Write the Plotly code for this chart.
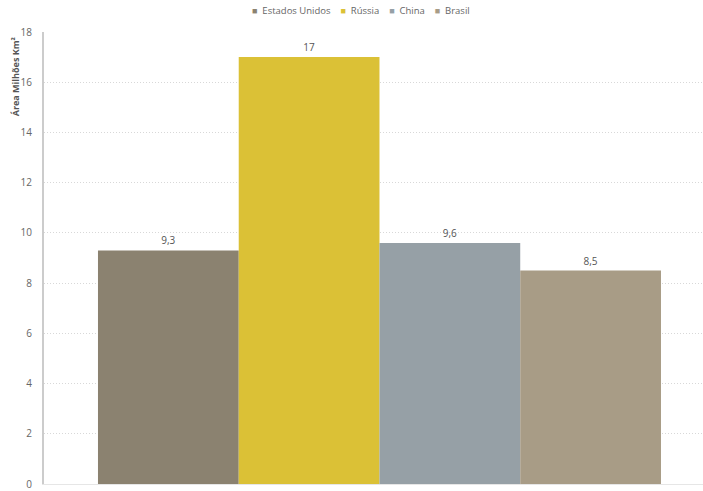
import plotly.graph_objects as go

series = ["Estados Unidos", "Rússia", "China", "Brasil"]
values = [9.3, 17, 9.6, 8.5]
colors = ["#8b8270", "#dbc136", "#96a0a6", "#a89c86"]
category = [""]
y_ticks = [0, 2, 4, 6, 8, 10, 12, 14, 16, 18]
y_title = "Área Milhões Km²"

fig = go.Figure()
for name, v, c in zip(series, values, colors):
    fig.add_trace(go.Bar(
        name=name, x=category, y=[v], marker=dict(color=c, line=dict(width=0)),
        text=[v], texttemplate="%{y}", textposition="outside",
        textfont=dict(size=10, color="#555555"), cliponaxis=False,
        showlegend=False,
    ))

legend_html = "&nbsp;&nbsp;&nbsp;&nbsp;".join(
    f"<span style='color:{c};font-size:9px'>■</span>&nbsp;&nbsp;{n}" for n, c in zip(series, colors)
)
fig.add_annotation(text=legend_html, xref="paper", yref="paper", x=0.481, y=1.047,
                   xanchor="center", yanchor="middle", showarrow=False,
                   font=dict(size=9.5, color="#666666"))
fig.add_annotation(text=f"<b>{y_title}</b>", xref="paper", yref="paper", x=-0.044, y=0.995,
                   xanchor="center", yanchor="top", textangle=-90, showarrow=False,
                   font=dict(size=9, color="#555555"))

fig.update_layout(
    width=703, height=491,
    margin=dict(l=44, r=0, t=32, b=7, autoexpand=False),
    paper_bgcolor="white", plot_bgcolor="white",
    barmode="group", bargap=0.2, bargroupgap=0,
    separators=",.",
    font=dict(family="Open Sans, sans-serif", size=10, color="#666666"),
    showlegend=False,
)
fig.update_xaxes(range=[-0.4767, 0.4597], showticklabels=False, showgrid=False,
                 showline=True, linecolor="#e6e6e6", linewidth=1, zeroline=False,
                 automargin=False)
fig.update_yaxes(range=[0, 18], tickvals=y_ticks, showgrid=True, gridcolor="#d8d8d8",
                 griddash="1px,2px", gridwidth=1, showline=True, linecolor="#cccccc",
                 linewidth=2, zeroline=False, ticks="", ticklabelstandoff=8,
                 ticklabeloverflow="allow",
                 automargin=False, tickfont=dict(size=10, color="#666666"))

fig.write_html("out.html", config={"displayModeBar": False},
               post_script="document.body.style.margin='0';document.body.style.overflow='hidden';")
